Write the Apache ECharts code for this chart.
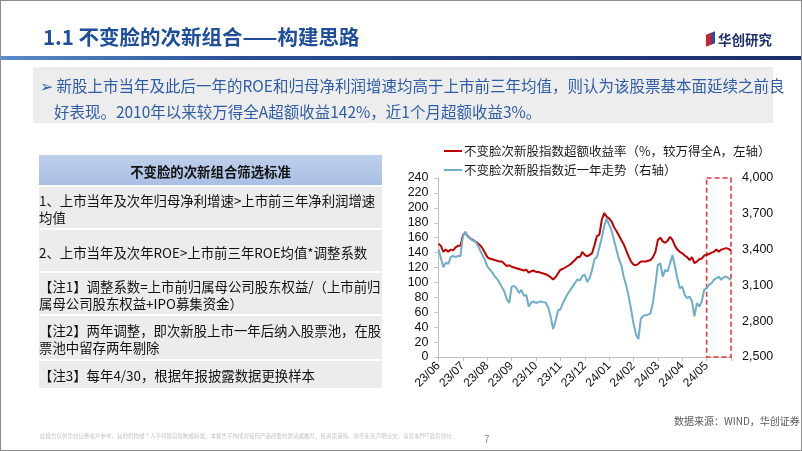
<!DOCTYPE html>
<html>
<head>
<meta charset="utf-8">
<script src="https://cdn.jsdelivr.net/npm/echarts@6/dist/echarts.min.js"></script>
<style>
  html, body { margin: 0; padding: 0; background: #fff; }
  #slide { position: relative; width: 802px; height: 451px; overflow: hidden; background: #fff; font-family: "Noto Sans CJK SC", sans-serif; }
  #frame { position: absolute; left: 0; top: 0; width: 800px; height: 449px; border: 1px solid #8c8c8c; z-index: 5; pointer-events: none; }
  #chart { position: absolute; left: 0; top: 0; width: 802px; height: 451px; z-index: 2; }
  .abs { position: absolute; white-space: nowrap; z-index: 3; }
  #title { left: 43px; top: 21px; font-size: 20.5px; font-weight: bold; color: #1f4e9c; }
  #bar { position: absolute; left: 1px; top: 56px; width: 800px; height: 4px; background: linear-gradient(90deg, #5b8cc8 0%, #2a4f95 30%, #1b2d6b 100%); z-index: 3; }
  #logo { left: 718px; top: 29px; font-size: 13.5px; font-weight: bold; color: #1c2f6e; }
  #logoicon { position: absolute; left: -12px; top: 4px; width: 9px; height: 12px; background: linear-gradient(90deg, #d0212a 55%, #2b4d9c 55%); transform: skewY(-20deg); }
  #bulletbox { position: absolute; left: 33px; top: 67px; width: 740px; height: 56px; background: #ededed; z-index: 1; }
  #bullet { left: 40px; top: 72px; font-size: 15.5px; line-height: 26px; color: #2e5ca6; }
  #table { position: absolute; left: 39px; top: 155px; width: 343px; z-index: 3; font-size: 13.4px; color: #111; }
  .hdr { height: 30px; background: linear-gradient(180deg, #bfd0ec 0%, #a9bfe3 100%); text-align: center; line-height: 32px; font-weight: bold; font-size: 13.4px; }
  .row { background: #ececec; margin-top: 2px; box-sizing: border-box; padding: 5px 0 0 0; line-height: 17px; white-space: nowrap; }
  #source { left: 674px; top: 413px; font-size: 10px; color: #595959; }
  #disc { left: 40px; top: 432px; font-size: 5.5px; color: #c4c4c4; }
  #page { left: 484px; top: 431px; font-size: 10px; color: #8c8c8c; }
</style>
</head>
<body>
<div id="slide">
  <div id="frame"></div>
  <div class="abs" id="title">1.1 不变脸的次新组合——构建思路</div>
  <div id="bar"></div>
  <div class="abs" id="logo"><span id="logoicon"></span>华创研究</div>
  <div id="bulletbox"></div>
  <div class="abs" id="bullet">➢&nbsp;新股上市当年及此后一年的ROE和归母净利润增速均高于上市前三年均值，则认为该股票基本面延续之前良<br>&nbsp;&nbsp;&nbsp;&nbsp;好表现。2010年以来较万得全A超额收益142%，近1个月超额收益3%。</div>
  <div id="table">
    <div class="hdr">不变脸的次新组合筛选标准</div>
    <div class="row" style="height:41px">1、上市当年及次年归母净利增速&gt;上市前三年净利润增速<br>均值</div>
    <div class="row" style="height:41px;padding-top:14px">2、上市当年及次年ROE&gt;上市前三年ROE均值*调整系数</div>
    <div class="row" style="height:41px">【注1】调整系数=上市前归属母公司股东权益/（上市前归<br>属母公司股东权益+IPO募集资金）</div>
    <div class="row" style="height:43px;padding-top:6px">【注2】两年调整，即次新股上市一年后纳入股票池，在股<br>票池中留存两年剔除</div>
    <div class="row" style="height:27px;padding-top:6px">【注3】每年4/30，根据年报披露数据更换样本</div>
  </div>
  <div class="abs" id="source">数据来源：WIND，华创证券</div>
  <div class="abs" id="disc">此报告仅供华创证券客户参考，其他机构或个人不得擅自复制或转发。本报告不构成对任何产品的要约邀请或推荐，投资需谨慎。关于免责声明全文，请见本PPT最后部分。</div>
  <div class="abs" id="page">7</div>
  <div id="chart"></div>
</div>
<script>
// ---- data ----
const monthLabels = ['23/06','23/07','23/08','23/09','23/10','23/11','23/12','24/01','24/02','24/03','24/04','24/05'];
const endLabel = '24/06';
const pointsPerMonth = 10;

// 不变脸次新股指数超额收益率（%，较万得全A，左轴）
const excessReturn = [
  152,149,141,144,141,144,143,147,149,149,
  163,167,162,159,157,155,153,150,146,140,
  134,132,131,130,129,128,128,125,122,123,
  121,120,119,118,117,116,117,113,115,116,
  114,114,113,112,111,109,107,104,107,112,
  117,118,120,122,124,127,130,134,134,141,
  137,135,137,139,150,162,164,184,193,188,
  186,182,174,169,163,157,151,143,135,128,
  124,123,125,128,128,128,129,130,134,141,
  157,160,155,153,156,161,157,149,144,141,
  139,136,134,130,134,126,128,131,132,136,
  137,138,140,141,144,141,144,145,146,145,
  143
];

// 不变脸次新股指数近一年走势（右轴）
const indexTrend = [
  3403,3327,3252,3291,3280,3336,3347,3336,3347,3347,
  3509,3550,3509,3495,3475,3475,3439,3397,3355,3314,
  3260,3236,3210,3178,3155,3123,3087,3049,2984,2953,
  3090,3096,3077,3035,3063,3012,3021,2923,2957,2965,
  2953,2960,2965,2960,2955,2915,2840,2735,2800,2890,
  2900,2950,2990,3030,3060,3090,3120,3150,3140,3180,
  3190,3130,3160,3230,3320,3340,3420,3500,3600,3660,
  3610,3560,3480,3400,3320,3270,3170,3100,3010,2900,
  2780,2690,2650,2820,2845,2850,2855,2865,2960,3110,
  3272,3286,3174,3230,3216,3286,3355,3258,3160,3077,
  3091,3021,2993,3007,2965,2840,2951,2923,2965,3063,
  3077,3104,3118,3146,3160,3174,3146,3169,3174,3160,
  3146
];

const leftTicks = { min: 0, max: 240, interval: 20 };
const rightTicks = { base: 2500, top: 4000, interval: 300 };
const seriesNames = ['不变脸次新股指数超额收益率（%，较万得全A，左轴）', '不变脸次新股指数近一年走势（右轴）'];
const highlightFromMonth = '24/05';

// ---- build categories ----
const categories = [];
monthLabels.forEach(m => { for (let j = 0; j < pointsPerMonth; j++) categories.push(m + '#' + j); });
categories.push(endLabel + '#0');
const lastIdx = categories.length - 1;
const hlStart = monthLabels.indexOf(highlightFromMonth) * pointsPerMonth;

const chart = echarts.init(document.getElementById('chart'), null, { renderer: 'canvas' });
const axisGray = '#bfbfbf';
const option = {
  animation: false,
  backgroundColor: 'transparent',
  textStyle: { fontFamily: '"Liberation Sans", Arial, sans-serif' },
  grid: { left: 438.5, right: 71, top: 178, bottom: 94, containLabel: false },
  legend: {
    data: seriesNames,
    orient: 'vertical',
    left: 439,
    top: 139,
    itemWidth: 18,
    itemHeight: 2,
    itemGap: 5,
    icon: 'rect',
    textStyle: { fontFamily: '"Noto Sans CJK SC", sans-serif', fontSize: 12.5, color: '#1a1a1a', lineHeight: 14, padding: [0, 0, 0, -3] }
  },
  xAxis: {
    type: 'category',
    boundaryGap: false,
    data: categories,
    axisLine: { lineStyle: { color: axisGray, width: 1 } },
    axisTick: { show: true, length: 4, interval: (i) => i % pointsPerMonth === 0, lineStyle: { color: axisGray } },
    axisLabel: {
      interval: (i) => i % pointsPerMonth === 0 && i < lastIdx,
      formatter: (v) => v.split('#')[0],
      rotate: 45,
      fontSize: 12,
      color: '#111',
      margin: 7
    },
    splitLine: { show: false }
  },
  yAxis: [
    {
      type: 'value', min: leftTicks.min, max: leftTicks.max, interval: leftTicks.interval,
      axisLine: { show: true, lineStyle: { color: axisGray } },
      axisTick: { show: true, length: 4, lineStyle: { color: axisGray } },
      axisLabel: { fontSize: 12.5, color: '#111', margin: 10 },
      splitLine: { show: false }
    },
    {
      type: 'value', position: 'right', min: 0, max: rightTicks.top - rightTicks.base, interval: rightTicks.interval,
      axisLine: { show: false }, axisTick: { show: false },
      axisLabel: { fontSize: 12.5, color: '#111', margin: 11, formatter: (v) => (v + rightTicks.base).toLocaleString('en-US') },
      splitLine: { show: false }
    }
  ],
  series: [
    {
      name: seriesNames[0], type: 'line', yAxisIndex: 0, data: excessReturn,
      symbol: 'none', clip: false,
      lineStyle: { color: '#c00000', width: 2 }, itemStyle: { color: '#c00000' },
      markArea: {
        silent: true,
        label: { show: false },
        itemStyle: { color: 'rgba(0,0,0,0)', borderColor: '#e8393e', borderWidth: 1.6, borderType: [5, 3] },
        data: [[{ xAxis: categories[hlStart], yAxis: 243.5 }, { xAxis: categories[lastIdx], yAxis: 0 }]]
      }
    },
    {
      name: seriesNames[1], type: 'line', yAxisIndex: 1,
      data: indexTrend.map(v => v - rightTicks.base),
      symbol: 'none',
      lineStyle: { color: '#6eaec8', width: 2 }, itemStyle: { color: '#6eaec8' }
    }
  ]
};
chart.setOption(option);
</script>
</body>
</html>
